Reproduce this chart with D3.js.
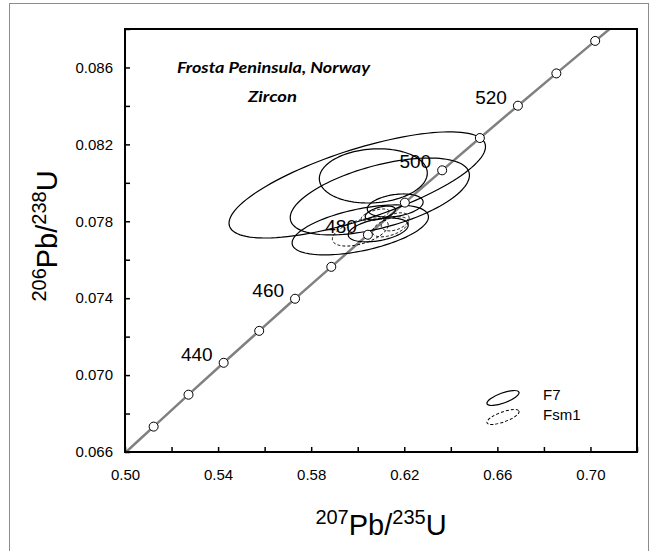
<!DOCTYPE html>
<html>
<head>
<meta charset="utf-8">
<script src="https://cdn.jsdelivr.net/npm/d3@7"></script>
<style>
  body { margin: 0; background: #fff; }
  svg { display: block; }
</style>
</head>
<body>
<script>
// concordia ages (Ma) and their ratios
var concAges = [410, 420, 430, 440, 450, 460, 470, 480, 490, 500, 510, 520, 530, 540, 550];
var concX = [0.49749, 0.51231, 0.52728, 0.54239, 0.55766, 0.57307, 0.58864, 0.60437,
             0.62025, 0.63628, 0.65248, 0.66883, 0.68535, 0.70203, 0.71888];
var concY = [0.06567, 0.06732, 0.06898, 0.07064, 0.07230, 0.07397, 0.07563, 0.07730,
             0.07897, 0.08065, 0.08233, 0.08401, 0.08569, 0.08738, 0.08906];
var labelAges = [440, 460, 480, 500, 520];

// F7 analyses: 207/235, error, 206/238, error, rho
var f7X    = [0.5998, 0.6067, 0.6095, 0.6161, 0.6011, 0.6088, 0.6097];
var f7XErr = [0.0551, 0.0232, 0.0385, 0.0120, 0.0293, 0.0129, 0.0065];
var f7Y    = [0.07989, 0.08036, 0.07929, 0.07882, 0.07755, 0.07755, 0.07843];
var f7YErr = [0.00276, 0.00141, 0.00200, 0.00060, 0.00130, 0.00062, 0.00036];
var f7Rho  = [0.72, 0.10, 0.55, 0.30, 0.52, 0.40, 0.50];

// Fsm1 analyses
var fsmX    = [0.6011, 0.6140, 0.6161, 0.6075];
var fsmXErr = [0.0120, 0.0077, 0.0060, 0.0060];
var fsmY    = [0.07744, 0.07771, 0.07797, 0.07833];
var fsmYErr = [0.00073, 0.00052, 0.00047, 0.00031];
var fsmRho  = [0.50, 0.50, 0.40, 0.60];

var xTicks = [0.50, 0.54, 0.58, 0.62, 0.66, 0.70];
var yTicks = [0.066, 0.070, 0.074, 0.078, 0.082, 0.086];

drawChart();

function drawChart(){
    var width = 653, height = 551;
    var mLeft = 125, mRight = 637, mTop = 29, mBottom = 452;

    var svg = d3.select("body").append("svg")
        .attr("width", width)
        .attr("height", height);

    // outer gray border
    svg.append("rect")
        .attr("x", 9.5).attr("y", 3.5)
        .attr("width", 639).attr("height", 560)
        .attr("fill", "none")
        .attr("stroke", "#8c8c8c")
        .attr("stroke-width", 1);

    var x = d3.scaleLinear().domain([0.50, 0.72]).range([mLeft, mRight]);
    var y = d3.scaleLinear().domain([0.066, 0.088]).range([mBottom, mTop]);

    svg.append("clipPath").attr("id", "plotclip")
      .append("rect")
        .attr("x", mLeft).attr("y", mTop)
        .attr("width", mRight - mLeft).attr("height", mBottom - mTop);

    var plot = svg.append("g").attr("clip-path", "url(#plotclip)");

    // concordia line
    var conc = concAges.map(function(a, i){ return [concX[i], concY[i]]; });
    plot.append("path")
        .datum(conc)
        .attr("d", d3.line()
            .x(function(d){ return x(d[0]); })
            .y(function(d){ return y(d[1]); })
            .curve(d3.curveCatmullRom))
        .attr("fill", "none")
        .attr("stroke", "#808080")
        .attr("stroke-width", 2.5);

    // error ellipses
    function ellipsePoints(cx, ex, cy, ey, rho){
        var s = Math.sqrt(1 - rho * rho);
        return d3.range(0, 360, 3).map(function(deg){
            var t = deg * Math.PI / 180;
            return [cx + ex * Math.cos(t), cy + ey * (rho * Math.cos(t) + s * Math.sin(t))];
        });
    }
    var ellipseLine = d3.line()
        .x(function(d){ return x(d[0]); })
        .y(function(d){ return y(d[1]); })
        .curve(d3.curveLinearClosed);

    var f7 = f7X.map(function(v, i){ return ellipsePoints(v, f7XErr[i], f7Y[i], f7YErr[i], f7Rho[i]); });
    var fsm = fsmX.map(function(v, i){ return ellipsePoints(v, fsmXErr[i], fsmY[i], fsmYErr[i], fsmRho[i]); });

    plot.selectAll(".f7")
        .data(f7).enter().append("path")
        .attr("class", "f7")
        .attr("d", ellipseLine)
        .attr("fill", "none")
        .attr("stroke", "#000")
        .attr("stroke-width", 1.2);

    plot.selectAll(".fsm")
        .data(fsm).enter().append("path")
        .attr("class", "fsm")
        .attr("d", ellipseLine)
        .attr("fill", "none")
        .attr("stroke", "#000")
        .attr("stroke-width", 1)
        .attr("stroke-dasharray", "3,2");

    // concordia age markers
    var markers = conc.slice(1, conc.length - 1);
    plot.selectAll(".age")
        .data(markers).enter().append("circle")
        .attr("class", "age")
        .attr("cx", function(d){ return x(d[0]); })
        .attr("cy", function(d){ return y(d[1]); })
        .attr("r", 4.5)
        .attr("fill", "#fff")
        .attr("stroke", "#000")
        .attr("stroke-width", 1);

    svg.selectAll(".agelabel")
        .data(labelAges).enter().append("text")
        .attr("class", "agelabel")
        .attr("x", function(a){ return x(concX[concAges.indexOf(a)]) - 11; })
        .attr("y", function(a){ return y(concY[concAges.indexOf(a)]) - 2; })
        .attr("text-anchor", "end")
        .attr("font-family", "Liberation Sans, Arial, sans-serif")
        .attr("font-size", 19)
        .text(function(a){ return a; });

    // axes with inward ticks
    var xAxis = d3.axisBottom(x)
        .tickValues(d3.range(0.50, 0.7201, 0.02))
        .tickSizeInner(-5).tickSizeOuter(0)
        .tickFormat(function(d){
            return xTicks.some(function(t){ return Math.abs(t - d) < 1e-6; }) ? d3.format(".2f")(d) : "";
        });
    var yAxis = d3.axisLeft(y)
        .tickValues(d3.range(0.066, 0.08801, 0.002))
        .tickSizeInner(-5).tickSizeOuter(0)
        .tickFormat(function(d){
            return yTicks.some(function(t){ return Math.abs(t - d) < 1e-7; }) ? d3.format(".3f")(d) : "";
        });

    var gx = svg.append("g")
        .attr("transform", "translate(0," + mBottom + ")")
        .call(xAxis);
    var gy = svg.append("g")
        .attr("transform", "translate(" + mLeft + ",0)")
        .call(yAxis);

    [gx, gy].forEach(function(g){
        g.select(".domain").remove();
        g.selectAll(".tick line").attr("stroke", "#000").attr("stroke-width", 1.5);
        g.selectAll(".tick text")
            .attr("font-family", "Liberation Sans, Arial, sans-serif")
            .attr("font-size", 15)
            .attr("fill", "#000");
    });
    gx.selectAll(".tick text").attr("y", 17).attr("dy", "0.71em");
    gy.selectAll(".tick text").attr("x", -12);

    // plot frame
    svg.append("rect")
        .attr("x", mLeft).attr("y", mTop)
        .attr("width", mRight - mLeft).attr("height", mBottom - mTop)
        .attr("fill", "none")
        .attr("stroke", "#000")
        .attr("stroke-width", 2);

    // titles
    svg.append("text")
        .attr("x", 177).attr("y", 73)
        .attr("font-family", "Lato, sans-serif")
        .attr("font-weight", "bold")
        .attr("font-style", "italic")
        .attr("font-size", 16)
        .attr("textLength", 193)
        .attr("lengthAdjust", "spacingAndGlyphs")
        .text("Frosta Peninsula, Norway");
    svg.append("text")
        .attr("x", 248).attr("y", 102)
        .attr("font-family", "Lato, sans-serif")
        .attr("font-weight", "bold")
        .attr("font-style", "italic")
        .attr("font-size", 16)
        .attr("textLength", 49)
        .attr("lengthAdjust", "spacingAndGlyphs")
        .text("Zircon");

    // axis titles
    function isotopeLabel(sel, m1, i1, m2, i2){
        sel.attr("font-family", "Liberation Sans, Arial, sans-serif")
            .attr("font-size", 29)
            .attr("text-anchor", "middle");
        sel.append("tspan").attr("font-size", 20).attr("dy", -11).text(m1);
        sel.append("tspan").attr("dy", 11).text(i1);
        sel.append("tspan").attr("font-size", 20).attr("dy", -11).text(m2);
        sel.append("tspan").attr("dy", 11).text(i2);
    }
    isotopeLabel(svg.append("text").attr("x", 381).attr("y", 535), "207", "Pb/", "235", "U");
    isotopeLabel(svg.append("text").attr("transform", "translate(57,236) rotate(-90)"), "206", "Pb/", "238", "U");

    // legend
    var legend = svg.append("g");
    legend.append("ellipse")
        .attr("transform", "translate(503,398) rotate(-20)")
        .attr("rx", 17).attr("ry", 5)
        .attr("fill", "none").attr("stroke", "#000").attr("stroke-width", 1.2);
    legend.append("ellipse")
        .attr("transform", "translate(503,417) rotate(-20)")
        .attr("rx", 17).attr("ry", 5)
        .attr("fill", "none").attr("stroke", "#000").attr("stroke-width", 1)
        .attr("stroke-dasharray", "3,2");
    legend.append("text")
        .attr("x", 543).attr("y", 400)
        .attr("font-family", "Liberation Sans, Arial, sans-serif")
        .attr("font-size", 15)
        .text("F7");
    legend.append("text")
        .attr("x", 543).attr("y", 420)
        .attr("font-family", "Liberation Sans, Arial, sans-serif")
        .attr("font-size", 15)
        .text("Fsm1");
}
</script>
</body>
</html>
